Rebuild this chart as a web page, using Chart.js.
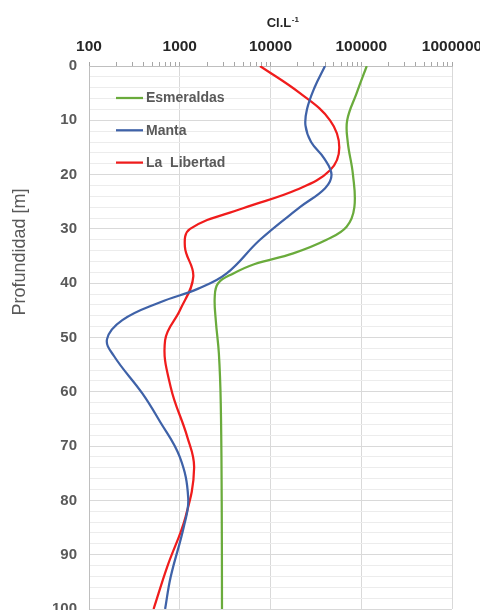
<!DOCTYPE html>
<html>
<head>
<meta charset="utf-8">
<script src="https://cdn.jsdelivr.net/npm/chart.js@4.4.1/dist/chart.umd.min.js"></script>
<style>
html, body { margin: 0; padding: 0; background: #fff; overflow: hidden; width: 480px; height: 610px; }
#wrap { position: absolute; left: 0; top: 0; width: 520px; height: 640px; }
</style>
</head>
<body>
<div id="wrap"><canvas id="perfil-chart"></canvas></div>
<script>
// perfil de cloruros vs profundidad (eje x log arriba, profundidad hacia abajo)

const decadeTicks = [100, 1000, 10000, 100000, 1000000];

const esmDepth = [0, 5, 10, 14, 20, 26, 29.6, 32, 34.5, 36.5, 38.2, 40, 42.5, 47, 53, 62, 80, 100];
const esmVal   = [115000, 89000, 70000, 71000, 81000, 84000, 69000, 41500, 17800, 6600, 3900, 2650, 2430, 2500, 2700, 2830, 2900, 2920];

const mantaDepth = [0, 4, 8, 11, 14, 17, 20, 22.5, 26, 32, 38.2, 41, 43.5, 46.8, 50.3, 53.5, 60.3, 65.2, 72, 79.6, 84.8, 94.1, 100];
const mantaVal   = [39900, 30500, 25200, 24300, 28000, 39000, 47000, 40000, 21100, 7660, 3290, 1600, 610, 233, 158, 190, 387, 591, 1000, 1240, 1110, 794, 690];

const libDepth = [0, 5, 10, 15, 19.2, 22.8, 26.2, 30, 33.3, 38.8, 44.9, 50.5, 59.1, 68.3, 74, 83, 92.2, 100];
const libVal   = [7660, 21100, 45300, 57300, 45300, 19400, 4980, 1300, 1140, 1410, 1010, 690, 794, 1210, 1440, 1160, 729, 515];

const seriesNames = ["Esmeraldas", "Manta", "La  Libertad"];
const seriesColors = ["#6aab3c", "#3f62a8", "#f01c1c"];

function toPoints(depths, vals) {
    return depths.map((d, i) => ({ x: vals[i], y: d }));
}

function isDecade(v) {
    return decadeTicks.includes(v);
}

// leyenda dentro del grafico + titulos de ejes
const extrasPlugin = {
    id: "extras",
    afterDraw(chart) {
        const ctx = chart.ctx;
        const area = chart.chartArea;
        ctx.save();

        // leyenda
        chart.data.datasets.forEach((ds, i) => {
            const y = area.top + 32 + i * 32.3;
            ctx.strokeStyle = ds.borderColor;
            ctx.lineWidth = 2.25;
            ctx.beginPath();
            ctx.moveTo(area.left + 27, y);
            ctx.lineTo(area.left + 54, y);
            ctx.stroke();
            ctx.fillStyle = "#595959";
            ctx.font = "bold 14px 'Liberation Sans', Arial, sans-serif";
            ctx.textAlign = "left";
            ctx.textBaseline = "middle";
            ctx.fillText(ds.label, area.left + 57, y + 0.5);
        });

        // titulo eje x: Cl.L-1
        ctx.fillStyle = "#262626";
        ctx.textBaseline = "alphabetic";
        ctx.textAlign = "left";
        ctx.font = "bold 13px 'Liberation Sans', Arial, sans-serif";
        const main = "Cl.L";
        const wMain = ctx.measureText(main).width;
        ctx.font = "bold 8px 'Liberation Sans', Arial, sans-serif";
        const sup = "-1";
        const wSup = ctx.measureText(sup).width;
        const cx = (area.left + area.right) / 2 + 12;
        const x0 = cx - (wMain + wSup) / 2;
        ctx.font = "bold 13px 'Liberation Sans', Arial, sans-serif";
        ctx.fillText(main, x0, 27);
        ctx.font = "bold 8px 'Liberation Sans', Arial, sans-serif";
        ctx.fillText(sup, x0 + wMain + 0.5, 22);

        // titulo eje y
        ctx.translate(area.left - 69, area.top + 186);
        ctx.rotate(-Math.PI / 2);
        ctx.textAlign = "center";
        ctx.textBaseline = "middle";
        ctx.fillStyle = "#595959";
        ctx.font = "18px 'Liberation Sans', Arial, sans-serif";
        ctx.fillText("Profundidad [m]", 0, 0);
        ctx.restore();
    }
};

const datasets = [
    toPoints(esmDepth, esmVal),
    toPoints(mantaDepth, mantaVal),
    toPoints(libDepth, libVal)
].map((pts, i) => ({
    label: seriesNames[i],
    data: pts,
    borderColor: seriesColors[i],
    backgroundColor: seriesColors[i],
    borderWidth: 2.25,
    pointRadius: 0,
    fill: false,
    tension: 0.4
}));

new Chart(document.getElementById("perfil-chart"), {
    type: "line",
    data: { datasets: datasets },
    options: {
        responsive: true,
        maintainAspectRatio: false,
        animation: false,
        indexAxis: "y",
        layout: { padding: { top: 0, left: 0, right: 68, bottom: 31 } },
        plugins: {
            legend: { display: false },
            tooltip: { enabled: false }
        },
        scales: {
            x: {
                type: "logarithmic",
                position: "top",
                min: 100,
                max: 1000000,
                afterBuildTicks: scale => {
                    const t = [];
                    decadeTicks.forEach((d, k) => {
                        if (k === decadeTicks.length - 1) { t.push({ value: d }); return; }
                        for (let m = 1; m < 10; m++) t.push({ value: d * m });
                    });
                    scale.ticks = t;
                },
                afterFit: scale => { scale.height = 66; },
                ticks: {
                    autoSkip: false,
                    maxRotation: 0,
                    padding: 6,
                    color: "#262626",
                    font: { family: "'Liberation Sans', Arial, sans-serif", size: 15.5, weight: "bold" },
                    callback: v => isDecade(v) ? String(v) : ""
                },
                grid: {
                    color: c => (c.tick && isDecade(c.tick.value)) ? "#d9d9d9" : "rgba(0,0,0,0)",
                    tickColor: "#a6a6a6",
                    tickLength: 4
                },
                border: { color: "#bfbfbf" }
            },
            y: {
                type: "linear",
                reverse: true,
                min: 0,
                max: 100,
                afterFit: scale => { scale.width = 89; },
                ticks: {
                    stepSize: 2,
                    autoSkip: false,
                    padding: 12,
                    color: "#595959",
                    font: { family: "'Liberation Sans', Arial, sans-serif", size: 15, weight: "bold" },
                    callback: v => v % 10 === 0 ? v : ""
                },
                grid: {
                    color: c => (c.tick && c.tick.value % 10 === 0) ? "#d9d9d9" : "#ececec",
                    drawTicks: false
                },
                border: { color: "#bfbfbf" }
            }
        }
    },
    plugins: [extrasPlugin]
});
</script>
</body>
</html>
